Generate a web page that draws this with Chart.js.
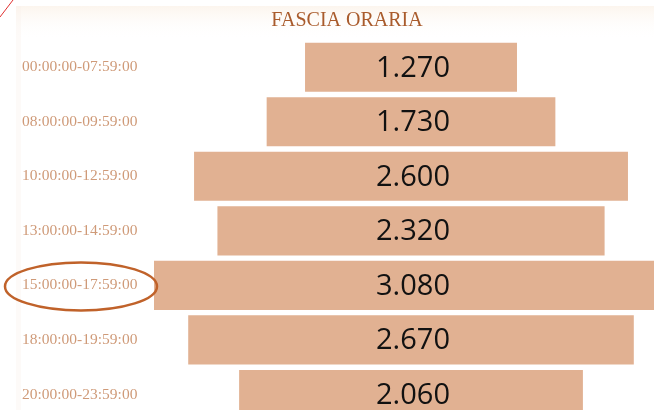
<!DOCTYPE html>
<html>
<head>
<meta charset="utf-8">
<script src="https://cdn.jsdelivr.net/npm/chart.js@4"></script>
<style>
  html, body { margin: 0; padding: 0; background: #fff; overflow: hidden; }
  #fascia-chart { display: block; }
</style>
</head>
<body>
<canvas id="fascia-chart" width="654" height="434"></canvas>
<script>
// fasce orarie e valori
const fasce = [
  '00:00:00-07:59:00',
  '08:00:00-09:59:00',
  '10:00:00-12:59:00',
  '13:00:00-14:59:00',
  '15:00:00-17:59:00',
  '18:00:00-19:59:00',
  '20:00:00-23:59:00',
];
const valori = [1270, 1730, 2600, 2320, 3080, 2670, 2060];
const titolo = 'FASCIA ORARIA';
const evidenziata = 4; // fascia cerchiata

const barColor = '#e1b192';
const labelColor = '#cf9a78';
const titleColor = '#a95b2c';
const serif = '"Liberation Serif", "Times New Roman", serif';

function fmt(n) {
  return String(n).replace(/\B(?=(\d{3})+(?!\d))/g, '.');
}

// sfondo, titolo, linea rossa e ellisse sull'etichetta
const decor = {
  id: 'decor',
  beforeDraw(chart) {
    const { ctx, width, height } = chart;
    ctx.save();
    ctx.fillStyle = '#ffffff';
    ctx.fillRect(0, 0, width, height);
    const g = ctx.createLinearGradient(0, 6, 0, 40);
    g.addColorStop(0, 'rgba(250,238,226,0.6)');
    g.addColorStop(1, 'rgba(255,255,255,0)');
    ctx.fillStyle = g;
    ctx.fillRect(16, 6, width - 16, 34);
    ctx.fillStyle = 'rgba(250,242,234,0.35)';
    ctx.fillRect(16, 6, 5, height);
    ctx.restore();
  },
  afterDraw(chart) {
    const { ctx } = chart;
    ctx.save();
    ctx.fillStyle = titleColor;
    ctx.font = '20px ' + serif;
    ctx.textAlign = 'center';
    ctx.textBaseline = 'middle';
    ctx.fillText(titolo, 347, 21);

    ctx.strokeStyle = '#e03030';
    ctx.lineWidth = 1;
    ctx.beginPath();
    ctx.moveTo(0, 17);
    ctx.lineTo(13, 0);
    ctx.stroke();

    const y = chart.scales.y.getPixelForValue(evidenziata);
    ctx.strokeStyle = '#c0622a';
    ctx.lineWidth = 2.5;
    ctx.beginPath();
    ctx.ellipse(81, y + 1, 76, 24, 0, 0, Math.PI * 2);
    ctx.stroke();
    ctx.restore();
  },
};

// etichette dei valori al centro delle barre
const valueLabels = {
  id: 'valueLabels',
  afterDatasetsDraw(chart) {
    const { ctx } = chart;
    const meta = chart.getDatasetMeta(0);
    ctx.save();
    ctx.fillStyle = '#111';
    ctx.font = '29px "Open Sans", sans-serif';
    ctx.textAlign = 'center';
    ctx.textBaseline = 'middle';
    meta.data.forEach((bar, i) => {
      const cx = (bar.x + bar.base) / 2 + 2;
      ctx.fillText(fmt(valori[i]), cx, bar.y + 1);
    });
    ctx.restore();
  },
};

new Chart(document.getElementById('fascia-chart'), {
  type: 'bar',
  data: {
    labels: fasce,
    datasets: [{
      data: valori.map(v => [-v / 2, v / 2]),
      backgroundColor: barColor,
      borderWidth: 0,
      barPercentage: 0.9,
      categoryPercentage: 1,
      clip: false,
    }],
  },
  options: {
    indexAxis: 'y',
    responsive: false,
    animation: false,
    layout: { padding: { left: 22, right: 0, top: 40, bottom: 0 } },
    plugins: {
      legend: { display: false },
      tooltip: { enabled: false },
      title: { display: false },
    },
    scales: {
      x: {
        display: false,
        min: -1564,
        max: 1456,
      },
      y: {
        grid: { display: false },
        border: { display: false },
        ticks: {
          color: labelColor,
          crossAlign: 'far',
          font: { family: serif, size: 15.5 },
        },
        afterFit(scale) { scale.width = 128; },
      },
    },
  },
  plugins: [decor, valueLabels],
});
</script>
</body>
</html>
